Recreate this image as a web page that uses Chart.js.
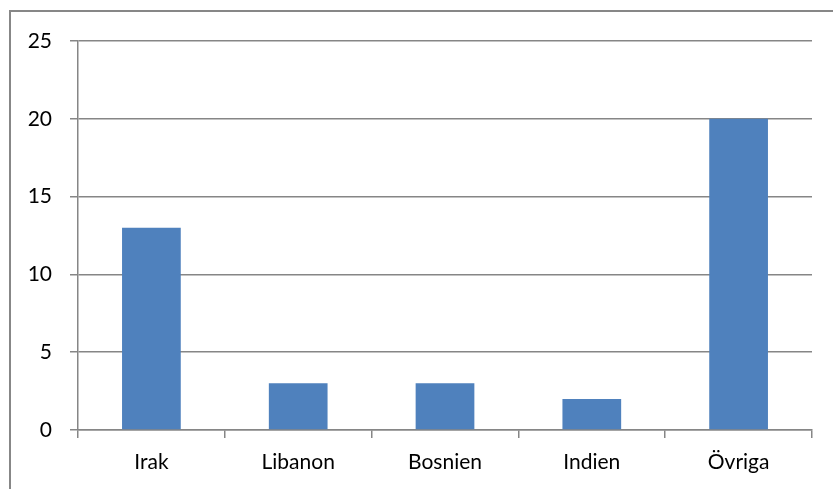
<!DOCTYPE html>
<html>
<head>
<meta charset="utf-8">
<script src="https://cdn.jsdelivr.net/npm/chart.js@4/dist/chart.umd.min.js"></script>
<style>
html,body{margin:0;padding:0;background:#fff;}
#wrap{width:833px;height:489px;position:relative;}
</style>
</head>
<body>
<div id="wrap"><canvas id="c" width="833" height="489"></canvas></div>
<script>
const categories = ["Irak", "Libanon", "Bosnien", "Indien", "Övriga"];
const values = [13, 3, 3, 2, 20];
const yTicks = [0, 5, 10, 15, 20, 25];

const frame = {
  id: 'frame',
  beforeDraw(chart) {
    const ctx = chart.ctx;
    ctx.save();
    ctx.fillStyle = '#fff';
    ctx.fillRect(0, 0, chart.width, chart.height);
    ctx.strokeStyle = '#878787';
    ctx.lineWidth = 2;
    ctx.strokeRect(10, 11, 1000, 1000);
    ctx.restore();
  }
};

const FONT = { family: 'Lato, "Open Sans", sans-serif', size: 21 };

new Chart(document.getElementById('c'), {
  type: 'bar',
  data: {
    labels: categories,
    datasets: [{
      data: values,
      backgroundColor: '#4F81BD',
      borderWidth: 0,
      barPercentage: 0.4,
      categoryPercentage: 1.0
    }]
  },
  plugins: [frame],
  options: {
    responsive: false,
    animation: false,
    layout: { padding: { top: 41, right: 21, bottom: 0, left: 0 } },
    plugins: { legend: { display: false }, tooltip: { enabled: false } },
    scales: {
      x: {
        grid: {
          offset: true,
          drawOnChartArea: false,
          drawTicks: true,
          tickLength: 8,
          color: '#868686',
          lineWidth: 1.5
        },
        border: { color: '#868686', width: 1.5 },
        ticks: {
          color: '#000',
          font: FONT,
          padding: 12,
          maxRotation: 0
        },
        afterFit(s) { s.height = 59; }
      },
      y: {
        min: 0,
        max: 25,
        afterBuildTicks(s) { s.ticks = yTicks.map(v => ({ value: v })); },
        grid: {
          color: '#868686',
          lineWidth: 1.5,
          drawTicks: true,
          tickLength: 8
        },
        border: { color: '#868686', width: 1.5 },
        ticks: {
          color: '#000',
          font: FONT,
          padding: 18
        },
        afterFit(s) { s.width = 78; }
      }
    }
  }
});
</script>
</body>
</html>
